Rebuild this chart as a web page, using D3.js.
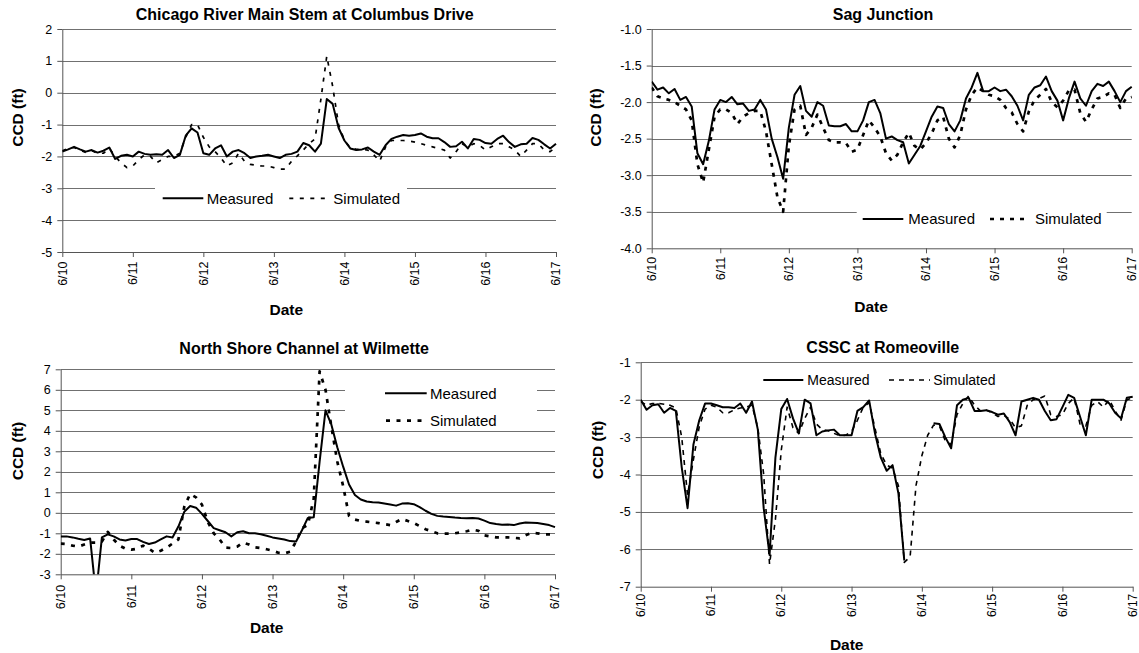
<!DOCTYPE html>
<html><head><meta charset="utf-8">
<script src="https://cdn.jsdelivr.net/npm/d3@7"></script>
<style>
body{margin:0;background:#fff;}
svg{display:block;font-family:"Liberation Sans",Arial,sans-serif;}
</style></head><body>
<svg id="chart" width="1139" height="653"></svg>
<script>
// ---- time axis (hours since 6/10 00:00, 2-hour readings) ----
const hours = [0,2,4,6,8,10,12,14,16,18,20,22,24,26,28,30,32,34,36,38,40,42,44,46,48,
  50,52,54,56,58,60,62,64,66,68,70,72,74,76,78,80,82,84,86,88,90,92,94,96,98,100,
  102,104,106,108,110,112,114,116,118,120,122,124,126,128,130,132,134,136,138,140,
  142,144,146,148,150,152,154,156,158,160,162,164,166,168];
const dateTicks = ["6/10","6/11","6/12","6/13","6/14","6/15","6/16","6/17"];
const seriesNames = ["Measured","Simulated"];

// ---- Chicago River Main Stem at Columbus Drive ----
const columbusTitle = "Chicago River Main Stem at Columbus Drive";
const columbusTicks = [2,1,0,-1,-2,-3,-4,-5];
const columbusTickLabels = ["2","1","0","-1","-2","-3","-4","-5"];
const columbusMeasured = [-1.85,-1.78,-1.70,-1.78,-1.85,-1.80,-1.88,-1.82,-1.72,-2.08,
  -1.98,-1.95,-2.00,-1.85,-1.92,-1.95,-1.93,-1.95,-1.80,-2.05,
  -1.95,-1.35,-1.12,-1.25,-1.90,-1.95,-1.75,-1.65,-2.00,-1.85,
  -1.80,-1.90,-2.05,-2.00,-1.98,-1.95,-2.00,-2.05,-1.95,-1.92,
  -1.85,-1.58,-1.65,-1.85,-1.60,-0.20,-0.35,-1.10,-1.50,-1.75,
  -1.80,-1.78,-1.72,-1.85,-1.95,-1.65,-1.45,-1.38,-1.33,-1.35,
  -1.33,-1.28,-1.38,-1.43,-1.43,-1.55,-1.70,-1.68,-1.54,-1.75,
  -1.45,-1.48,-1.58,-1.60,-1.45,-1.35,-1.55,-1.70,-1.62,-1.60,
  -1.42,-1.48,-1.62,-1.75,-1.60];
const columbusSimulated = [-1.82,-1.75,-1.72,-1.80,-1.88,-1.82,-1.90,-1.90,-1.75,-2.00,
  -2.20,-2.35,-2.30,-2.10,-1.95,-2.00,-2.20,-2.10,-2.00,-2.00,
  -1.90,-1.40,-1.00,-1.00,-1.40,-1.70,-1.85,-2.05,-2.30,-2.20,
  -1.90,-2.15,-2.25,-2.28,-2.30,-2.30,-2.35,-2.40,-2.40,-2.15,
  -1.98,-1.80,-1.60,-1.45,-0.20,1.15,0.20,-1.00,-1.50,-1.72,
  -1.78,-1.78,-1.80,-1.95,-2.15,-1.70,-1.50,-1.50,-1.50,-1.52,
  -1.55,-1.60,-1.65,-1.70,-1.75,-1.80,-2.05,-1.85,-1.60,-1.70,
  -1.60,-1.65,-1.80,-1.70,-1.60,-1.60,-1.70,-1.80,-2.00,-1.80,
  -1.60,-1.60,-1.80,-1.85,-1.70];

// ---- Sag Junction ----
const sagTitle = "Sag Junction";
const sagTicks = [-1.0,-1.5,-2.0,-2.5,-3.0,-3.5,-4.0];
const sagTickLabels = ["-1.0","-1.5","-2.0","-2.5","-3.0","-3.5","-4.0"];
const sagMeasured = [-1.72,-1.83,-1.80,-1.88,-1.82,-1.97,-1.93,-2.06,-2.70,-2.85,
  -2.53,-2.10,-1.97,-2.00,-1.93,-2.03,-2.02,-2.12,-2.10,-1.97,
  -2.10,-2.50,-2.75,-3.05,-2.35,-1.90,-1.78,-2.12,-2.20,-2.00,
  -2.05,-2.32,-2.33,-2.33,-2.30,-2.40,-2.40,-2.25,-2.00,-1.97,
  -2.15,-2.50,-2.47,-2.52,-2.55,-2.84,-2.72,-2.60,-2.40,-2.20,
  -2.06,-2.08,-2.30,-2.40,-2.25,-1.95,-1.80,-1.60,-1.85,-1.85,
  -1.80,-1.85,-1.83,-1.92,-2.05,-2.25,-1.90,-1.80,-1.77,-1.65,
  -1.85,-1.98,-2.25,-1.95,-1.72,-1.95,-2.05,-1.85,-1.75,-1.78,
  -1.72,-1.85,-2.00,-1.85,-1.79];
const sagSimulated = [-1.80,-1.92,-1.95,-1.97,-2.00,-2.05,-2.10,-2.25,-2.85,-3.10,
  -2.65,-2.20,-2.10,-2.10,-2.15,-2.30,-2.20,-2.15,-2.12,-2.12,
  -2.40,-2.85,-3.30,-3.50,-2.60,-2.10,-2.05,-2.45,-2.35,-2.17,
  -2.35,-2.52,-2.55,-2.55,-2.56,-2.68,-2.65,-2.45,-2.25,-2.35,
  -2.47,-2.70,-2.80,-2.72,-2.55,-2.42,-2.60,-2.65,-2.56,-2.43,
  -2.25,-2.20,-2.50,-2.62,-2.45,-2.10,-1.90,-1.80,-1.85,-1.90,
  -1.92,-1.97,-2.08,-2.14,-2.30,-2.40,-2.13,-1.97,-1.90,-1.82,
  -2.00,-2.07,-1.98,-1.84,-1.83,-2.15,-2.27,-2.10,-1.95,-1.93,
  -1.88,-1.90,-2.08,-1.95,-1.93];

// ---- North Shore Channel at Wilmette ----
const wilmetteTitle = "North Shore Channel at Wilmette";
const wilmetteTicks = [7,6,5,4,3,2,1,0,-1,-2,-3];
const wilmetteTickLabels = ["7","6","5","4","3","2","1","0","-1","-2","-3"];
const wilmetteMeasured = [-1.15,-1.15,-1.20,-1.27,-1.33,-1.25,-4.00,-1.20,-1.05,-1.15,
  -1.30,-1.35,-1.28,-1.28,-1.42,-1.52,-1.45,-1.30,-1.15,-1.20,
  -0.67,0.05,0.33,0.25,-0.05,-0.40,-0.75,-0.85,-0.95,-1.15,
  -0.95,-0.90,-1.00,-1.00,-1.05,-1.12,-1.20,-1.25,-1.30,-1.38,
  -1.40,-0.85,-0.25,-0.22,2.50,5.00,4.30,3.20,2.25,1.38,
  0.87,0.65,0.55,0.52,0.50,0.45,0.40,0.35,0.45,0.47,
  0.42,0.28,0.10,-0.05,-0.15,-0.18,-0.20,-0.23,-0.25,-0.26,
  -0.25,-0.28,-0.38,-0.50,-0.55,-0.58,-0.57,-0.60,-0.52,-0.47,
  -0.48,-0.50,-0.55,-0.60,-0.70];
const wilmetteSimulated = [-1.50,-1.52,-1.60,-1.65,-1.55,-1.45,-1.45,-1.40,-0.93,-1.30,
  -1.60,-1.75,-1.80,-1.75,-1.60,-1.75,-1.95,-1.85,-1.70,-1.50,
  -1.30,0.30,0.92,0.75,0.40,-0.45,-1.00,-1.30,-1.70,-1.72,
  -1.65,-1.45,-1.55,-1.68,-1.72,-1.78,-1.85,-1.95,-1.98,-1.90,
  -1.40,-0.75,-0.60,0.70,6.90,6.00,4.20,2.50,1.30,-0.15,
  -0.33,-0.40,-0.43,-0.47,-0.50,-0.55,-0.60,-0.45,-0.30,-0.40,
  -0.50,-0.65,-0.80,-0.90,-1.00,-1.02,-1.02,-1.00,-0.95,-0.90,
  -0.82,-0.88,-1.10,-1.15,-1.20,-1.20,-1.20,-1.22,-1.25,-1.10,
  -0.98,-1.00,-1.05,-1.05,-1.05];

// ---- CSSC at Romeoville ----
const romeovilleTitle = "CSSC at Romeoville";
const romeovilleTicks = [-1,-2,-3,-4,-5,-6,-7];
const romeovilleTickLabels = ["-1","-2","-3","-4","-5","-6","-7"];
const romeovilleMeasured = [-2.00,-2.27,-2.15,-2.12,-2.35,-2.22,-2.30,-3.80,-4.90,-3.20,
  -2.55,-2.10,-2.10,-2.15,-2.20,-2.20,-2.22,-2.10,-2.35,-2.05,
  -2.80,-4.90,-6.15,-3.55,-2.25,-1.98,-2.50,-2.90,-2.00,-2.10,
  -2.95,-2.85,-2.82,-2.80,-2.95,-2.95,-2.95,-2.30,-2.20,-2.02,
  -2.90,-3.55,-3.90,-3.75,-4.50,-6.30,null,null,null,null,
  -2.63,-2.65,-3.00,-3.30,-2.15,-2.00,-1.95,-2.30,-2.30,-2.28,
  -2.33,-2.40,-2.37,-2.60,-2.95,-2.05,-2.00,-1.95,-2.00,-2.30,
  -2.55,-2.52,-2.20,-1.87,-1.95,-2.45,-2.95,-2.00,-2.00,-2.00,
  -2.10,-2.35,-2.50,-1.95,-1.92];
const romeovilleSimulated = [-2.05,-2.15,-2.10,-2.10,-2.12,-2.15,-2.22,-3.00,-4.55,-3.60,
  -2.72,-2.25,-2.15,-2.20,-2.35,-2.35,-2.27,-2.22,-2.20,-2.15,
  -2.75,-4.00,-6.40,-5.20,-3.35,-2.20,-2.75,-2.90,-2.50,-2.20,
  -2.65,-2.80,-2.83,-2.90,-2.96,-2.95,-2.85,-2.55,-2.20,-2.08,
  -2.76,-3.45,-3.75,-3.83,-4.30,-6.35,-6.20,-4.30,-3.50,-2.95,
  -2.68,-2.70,-3.10,-3.20,-2.40,-2.10,-1.90,-2.15,-2.30,-2.28,
  -2.35,-2.45,-2.42,-2.52,-2.75,-2.70,-2.15,-2.00,-1.97,-1.90,
  -2.40,-2.45,-2.40,-2.10,-1.95,-2.65,-2.70,-2.15,-2.05,-2.20,
  -2.00,-2.30,-2.55,-2.00,-1.95];

// ---- layout (positions and styles only) ----
const panels = [
  {title: columbusTitle, ticks: columbusTicks, labels: columbusTickLabels, m: columbusMeasured, s: columbusSimulated,
   x0: 62.3, x1: 556, y0: 29, y1: 252, tX: 304.7, tY: 19.5, yt: [17.5, 117.5], xt: [286.3, 315],
   tickFont: 12.5, xGap: 9.5, simDash: "4,6.5", simW: 1.7,
   legend: {rect: [155, 183, 252, 30], font: 15, items: [[162.7, 203.3, 198.3, 206.7], [289.3, 330, 198.3, 333.3]]}},
  {title: sagTitle, ticks: sagTicks, labels: sagTickLabels, m: sagMeasured, s: sagSimulated,
   x0: 651.7, x1: 1131.7, y0: 29, y1: 248.3, tX: 883, tY: 19.5, yt: [596, 117.5], xt: [871, 311.7],
   tickFont: 12.5, xGap: 8.5, simDash: "4,6", simW: 2.7,
   legend: {rect: [856.7, 205, 250, 29], font: 15, items: [[862.7, 903.3, 219, 908.3], [990, 1030, 219, 1035]]}},
  {title: wilmetteTitle, ticks: wilmetteTicks, labels: wilmetteTickLabels, m: wilmetteMeasured, s: wilmetteSimulated,
   x0: 60.7, x1: 555, y0: 369.3, y1: 574.3, tX: 304.2, tY: 354, yt: [17.5, 451], xt: [266.7, 633],
   tickFont: 12.5, xGap: 10.5, simDash: "4,6.5", simW: 2.7,
   legend: {rect: [345, 379, 192, 51], font: 15, items: [[385, 426.7, 393.3, 430], [386, 426.7, 420.7, 430]]}},
  {title: romeovilleTitle, ticks: romeovilleTicks, labels: romeovilleTickLabels, m: romeovilleMeasured, s: romeovilleSimulated,
   x0: 640.7, x1: 1132.7, y0: 362.3, y1: 586.7, tX: 882.8, tY: 353.3, yt: [597.5, 450], xt: [846.7, 650],
   tickFont: 12, xGap: 7, simDash: "5,5", simW: 1.6,
   legend: {rect: null, font: 14, items: [[763.3, 803.3, 380, 807.3], [889, 930, 380, 933.3]]}}
];

const svg = d3.select("#chart");
const gridColor = "#707070", axisColor = "#555";

panels.forEach((p, idx) => {
  const yMin = d3.min(p.ticks), yMax = d3.max(p.ticks);
  const x = d3.scaleLinear().domain([hours[0], hours[hours.length - 1]]).range([p.x0, p.x1]);
  const y = d3.scaleLinear().domain([yMin, yMax]).range([p.y1, p.y0]);
  const g = svg.append("g");

  // gridlines
  g.append("g").selectAll("line").data(p.ticks.filter(v => v !== yMin)).join("line")
    .attr("x1", p.x0).attr("x2", p.x1)
    .attr("y1", d => Math.round(y(d)) + 0.5).attr("y2", d => Math.round(y(d)) + 0.5)
    .attr("stroke", gridColor).attr("stroke-width", 1);

  // axes
  const ya = d3.axisLeft(y).tickValues(p.ticks).tickFormat((d, i) => p.labels[i])
    .tickSize(5).tickSizeOuter(0).tickPadding(5);
  const yg = g.append("g").attr("transform", `translate(${p.x0},0)`).call(ya);
  yg.select(".domain").attr("stroke", axisColor);
  yg.selectAll(".tick line").attr("stroke", axisColor);
  yg.selectAll("text").attr("font-size", 12.5).attr("fill", "#000")
    .attr("font-family", "Liberation Sans, Arial, sans-serif");

  const dayHours = dateTicks.map((_, i) => i * 24);
  const xa = d3.axisBottom(x).tickValues(dayHours).tickFormat((d, i) => dateTicks[i])
    .tickSize(5).tickSizeOuter(0);
  const xg = g.append("g").attr("transform", `translate(0,${p.y1})`).call(xa);
  xg.select(".domain").attr("stroke", axisColor);
  xg.selectAll(".tick line").attr("stroke", axisColor);
  xg.selectAll("text").attr("font-size", p.tickFont).attr("fill", "#000")
    .attr("font-family", "Liberation Sans, Arial, sans-serif")
    .attr("transform", "rotate(-90)").attr("text-anchor", "end")
    .attr("x", -p.xGap).attr("y", 0).attr("dy", "0.3em");

  // clip
  const cid = "clip" + idx;
  svg.append("clipPath").attr("id", cid).append("rect")
    .attr("x", p.x0).attr("y", p.y0 - 3).attr("width", p.x1 - p.x0 + 2).attr("height", p.y1 - p.y0 + 3);

  const line = d3.line().defined(d => d[1] !== null).x(d => x(d[0])).y(d => y(d[1]));
  const dg = g.append("g").attr("clip-path", `url(#${cid})`);
  dg.append("path").datum(hours.map((h, i) => [h, p.s[i]])).attr("d", line)
    .attr("fill", "none").attr("stroke", "#000").attr("stroke-width", p.simW)
    .attr("stroke-dasharray", p.simDash).attr("stroke-linejoin", "round");
  dg.append("path").datum(hours.map((h, i) => [h, p.m[i]])).attr("d", line)
    .attr("fill", "none").attr("stroke", "#000").attr("stroke-width", 2)
    .attr("stroke-linejoin", "round");

  // legend
  const L = p.legend;
  const lg = g.append("g");
  if (L.rect) lg.append("rect").attr("x", L.rect[0]).attr("y", L.rect[1])
    .attr("width", L.rect[2]).attr("height", L.rect[3]).attr("fill", "#fff");
  L.items.forEach((it, j) => {
    lg.append("line").attr("x1", it[0]).attr("x2", it[1]).attr("y1", it[2]).attr("y2", it[2])
      .attr("stroke", "#000").attr("stroke-width", j === 0 ? 2 : p.simW)
      .attr("stroke-dasharray", j === 0 ? null : p.simDash);
    lg.append("text").attr("x", it[3]).attr("y", it[2]).attr("dy", "0.35em")
      .attr("font-size", L.font).text(seriesNames[j]);
  });

  // titles
  g.append("text").attr("x", p.tX).attr("y", p.tY).attr("text-anchor", "middle")
    .attr("font-size", 16).attr("font-weight", "bold").text(p.title);
  g.append("text").attr("transform", `translate(${p.yt[0]},${p.yt[1]}) rotate(-90)`)
    .attr("text-anchor", "middle").attr("dy", "0.35em")
    .attr("font-size", 15.5).attr("font-weight", "bold").text("CCD (ft)");
  g.append("text").attr("x", p.xt[0]).attr("y", p.xt[1]).attr("text-anchor", "middle")
    .attr("font-size", 15.5).attr("font-weight", "bold").text("Date");
});
</script>
</body></html>
